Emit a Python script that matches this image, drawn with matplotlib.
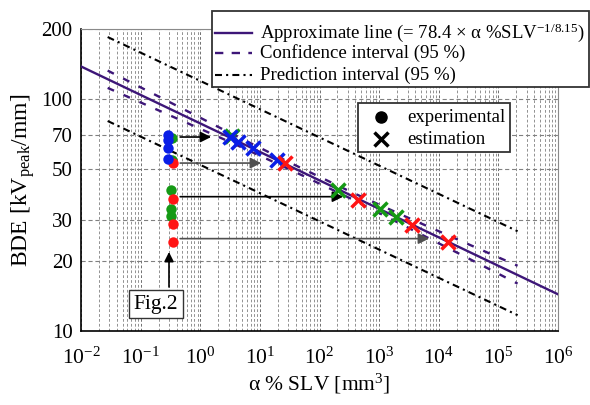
import numpy as np
import matplotlib
matplotlib.use("Agg")
import matplotlib.pyplot as plt
from matplotlib.ticker import FixedLocator, NullLocator, LogLocator, LogFormatterSciNotation, FixedFormatter
from matplotlib.patches import Rectangle

plt.rcParams['font.family'] = ['Liberation Serif', 'DejaVu Serif']
plt.rcParams['mathtext.fontset'] = 'custom'
plt.rcParams['mathtext.rm'] = 'Liberation Serif'
plt.rcParams['mathtext.it'] = 'Liberation Serif:italic'
plt.rcParams['mathtext.bf'] = 'Liberation Serif:bold'
plt.rcParams['lines.scale_dashes'] = False

# ---------------- data ----------------
fit_coef = 78.4
fit_exp = -1 / 8.15
fit_x = [1e-2, 1e6]

ci_x = [0.028, 0.32, 3.2, 32, 320, 3200, 32000, 210000]
ci_upper = [132.4, 96.3, 71.2, 53.1, 40.0, 30.6, 23.6, 19.1]
ci_lower = [111.5, 84.6, 65.1, 49.6, 37.4, 27.7, 20.5, 16.0]

pi_x = [0.028, 210000]
pi_upper = [184.7, 26.9]
pi_lower = [80.3, 11.7]

exp_blue_x = [0.29, 0.29, 0.29, 0.29]
exp_blue_y = [69.8, 66.5, 61.2, 54.9]
exp_green_x = [0.34, 0.34, 0.32, 0.32, 0.32]
exp_green_y = [67.6, 54.5, 40.5, 33.4, 31.3]
exp_red_x = [0.35, 0.35, 0.35, 0.35]
exp_red_y = [52.8, 37.0, 28.8, 24.2]

est_blue_x = [3.16, 4.36, 7.78, 19.2]
est_blue_y = [68.7, 65.3, 61.2, 54.5]
est_green_x = [3.38, 207, 1040, 1930]
est_green_y = [69.2, 40.5, 33.4, 31.0]
est_red_x = [26.5, 450, 3540, 14550]
est_red_y = [52.8, 36.6, 28.6, 24.2]

arrow_y = [68.5, 52.9, 37.9, 25.0]
arrow_x_start = [0.46, 0.46, 0.46, 0.46]
arrow_x_end = [1.52, 10.5, 249, 6900]
arrow_colors = ['black', '#505050', 'black', '#505050']

y_ticks = [10, 20, 30, 50, 70, 100, 200]

line_color = '#3d1678'
blue = '#0a1ee6'
green = '#159a15'
red = '#ff1414'

# ---------------- figure ----------------
fig = plt.figure(figsize=(5.9, 4.05), dpi=100)
ax = fig.add_axes([81 / 590, 1 - 331 / 405, (558 - 81) / 590, (331 - 29) / 405])
ax.set_xscale('log')
ax.set_yscale('log')
ax.set_xlim(1e-2, 1e6)
ax.set_ylim(10, 200)

# grid
ax.xaxis.set_major_locator(LogLocator(base=10, numticks=20))
ax.xaxis.set_minor_locator(LogLocator(base=10, subs=np.arange(2, 10), numticks=20))
ax.xaxis.set_major_formatter(LogFormatterSciNotation())
ax.yaxis.set_major_locator(FixedLocator(y_ticks))
ax.yaxis.set_major_formatter(FixedFormatter([str(v) for v in y_ticks]))
ax.yaxis.set_minor_locator(NullLocator())
ax.grid(True, which='major', axis='x', color='#707070', lw=0.7, ls=(0, (2, 1.5)))
ax.grid(True, which='minor', axis='x', color='#808080', lw=0.6, ls=(0, (2, 1.5)))
ax.grid(True, which='major', axis='y', color='#808080', lw=0.8, ls=(0, (3, 2)))
ax.set_axisbelow(True)
ax.tick_params(axis='both', which='both', length=0)
ax.tick_params(axis='x', labelsize=15.5, pad=12)
ax.tick_params(axis='y', labelsize=15, pad=6)
for s in ['top', 'right']:
    ax.spines[s].set_color('#8a8a8a')
    ax.spines[s].set_linewidth(0.8)
for s in ['left', 'bottom']:
    ax.spines[s].set_color('black')
    ax.spines[s].set_linewidth(1.2)

# fit line
fx = np.array(fit_x)
ax.plot(fx, fit_coef * fx ** fit_exp, color=line_color, lw=1.7, zorder=3)
# confidence interval
ax.plot(ci_x, ci_upper, color=line_color, lw=1.7, dashes=(5, 7.5), zorder=3)
ax.plot(ci_x, ci_lower, color=line_color, lw=1.7, dashes=(5, 7.5), zorder=3)
# prediction interval
ax.plot(pi_x, pi_upper, color='black', lw=1.5, dashes=(5, 3, 1.5, 3), zorder=3)
ax.plot(pi_x, pi_lower, color='black', lw=1.5, dashes=(5, 3, 1.5, 3), zorder=3)

# arrows
for xs, xe, yv, c in zip(arrow_x_start, arrow_x_end, arrow_y, arrow_colors):
    ax.annotate('', xy=(xe, yv), xytext=(xs, yv),
                arrowprops=dict(arrowstyle='-|>', color=c, lw=1.2,
                                mutation_scale=16, shrinkA=0, shrinkB=0),
                zorder=4)

# experimental
ax.plot(exp_green_x, exp_green_y, 'o', color=green, ms=7.5, mec='none', zorder=5)
ax.plot(exp_red_x, exp_red_y, 'o', color=red, ms=7.5, mec='none', zorder=5)
ax.plot(exp_blue_x, exp_blue_y, 'o', color=blue, ms=7.5, mec='none', zorder=5)
# estimation
ax.plot(est_green_x, est_green_y, 'x', color=green, ms=9.5, mew=2.5, zorder=6)
ax.plot(est_blue_x, est_blue_y, 'x', color=blue, ms=9.5, mew=2.5, zorder=6)
ax.plot(est_red_x, est_red_y, 'x', color=red, ms=9.5, mew=2.5, zorder=6)

ax.set_xlabel(r'α % SLV [mm$^3$]', fontsize=15.5, labelpad=2)
ax.set_ylabel(r'BDE [kV$_{\mathrm{peak}}$/mm]', fontsize=17, labelpad=3)

# ---------------- overlay (legends, annotation) ----------------
ov = fig.add_axes([0, 0, 1, 1], facecolor='none')
ov.set_xlim(0, 590)
ov.set_ylim(405, 0)
ov.axis('off')

# legend 1
ov.add_patch(Rectangle((212, 11), 377, 76, facecolor='white', edgecolor='#333333', lw=1.3, zorder=10))
ov.plot([215, 252], [33, 33], color=line_color, lw=1.7, zorder=11)
ov.plot([215, 252], [53, 53], color=line_color, lw=1.7, dashes=(6, 6), zorder=11)
ov.plot([215, 252], [75, 75], color='black', lw=1.5, dashes=(5, 3, 1.5, 3), zorder=11)
ov.text(260, 33, r'Approximate line (= 78.4 × α %SLV$^{-1/8.15}$)', fontsize=13.5, va='center', ha='left', zorder=12)
ov.text(260, 53, 'Confidence interval (95 %)', fontsize=13.5, va='center', ha='left', zorder=12)
ov.text(260, 75, 'Prediction interval (95 %)', fontsize=13.5, va='center', ha='left', zorder=12)

# legend 2
ov.add_patch(Rectangle((358, 103), 152, 49, facecolor='white', edgecolor='#333333', lw=1.3, zorder=10))
ov.plot([381], [117], 'o', color='black', ms=8, zorder=11)
ov.plot([381], [139], 'x', color='black', ms=10.5, mew=2.5, zorder=11)
ov.text(407, 117, 'experimental', fontsize=13.5, va='center', ha='left', zorder=12)
ov.text(407, 139, 'estimation', fontsize=13.5, va='center', ha='left', zorder=12)

# Fig.2 box and arrow
ov.text(156, 304, 'Fig.2', fontsize=15.5, ha='center', va='center', zorder=12,
        bbox=dict(boxstyle='square,pad=0.2', facecolor='white', edgecolor='#333333', lw=1.0))
ov.annotate('', xy=(169, 252), xytext=(169, 287),
            arrowprops=dict(arrowstyle='-|>', color='black', lw=1.2, mutation_scale=14,
                            shrinkA=0, shrinkB=0), zorder=12)

fig.savefig('out.png', dpi=100)
